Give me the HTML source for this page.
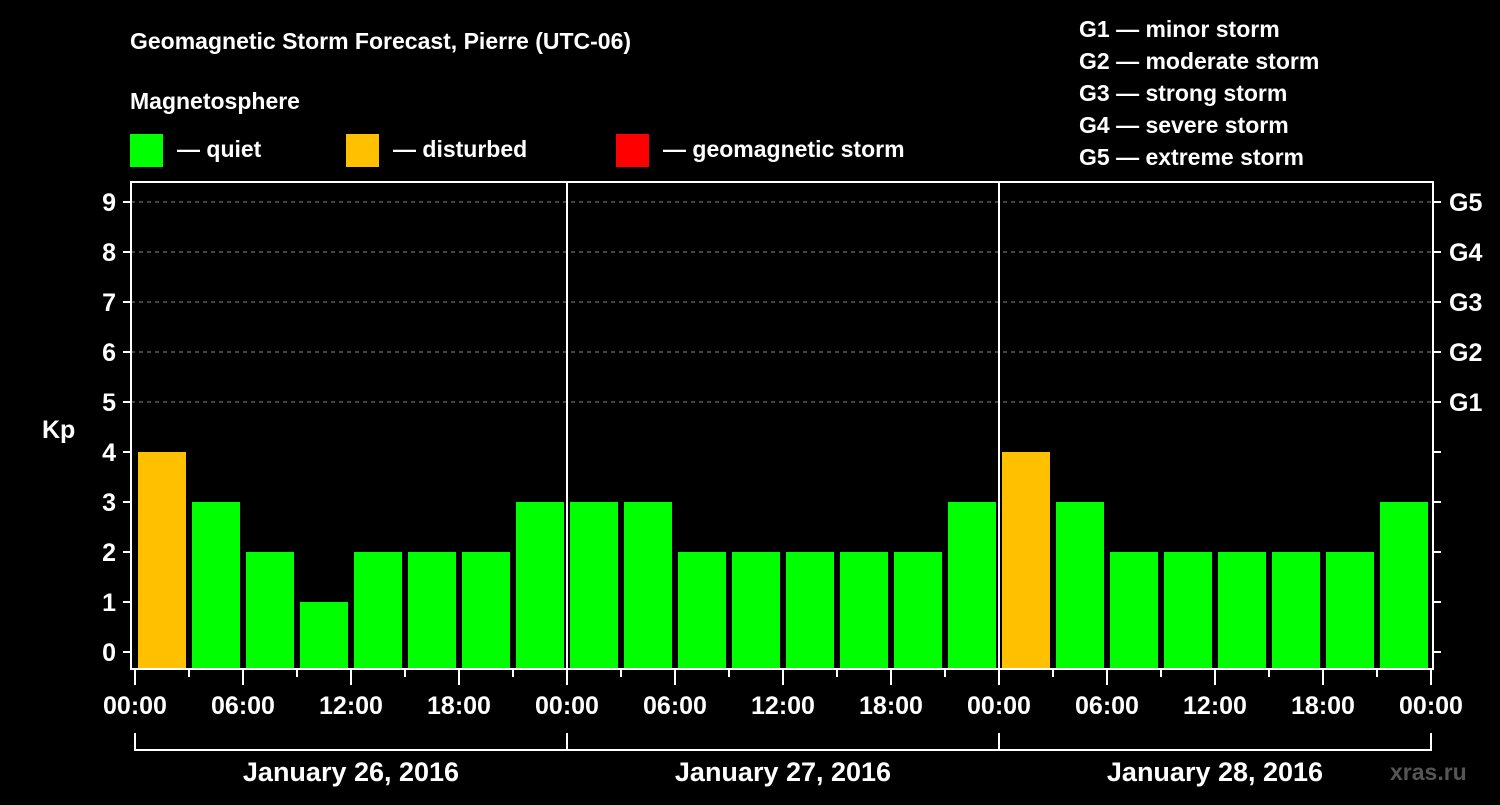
<!DOCTYPE html>
<html><head><meta charset="utf-8"><style>
body{margin:0;background:#000;width:1500px;height:800px;overflow:hidden;font-family:"Liberation Sans",sans-serif;font-weight:bold;color:#fff}
</style></head><body>
<svg width="1500" height="800" xmlns="http://www.w3.org/2000/svg" font-family="Liberation Sans, sans-serif" font-weight="bold">
<text x="130" y="49" font-size="23" fill="#fff">Geomagnetic Storm Forecast, Pierre (UTC-06)</text>
<text x="130" y="109" font-size="23" fill="#fff">Magnetosphere</text>
<g><rect x="130" y="134" width="33" height="33" fill="#00ff00"/><text x="177" y="157" font-size="23" fill="#fff">— quiet</text></g>
<g><rect x="346" y="134" width="33" height="33" fill="#ffc000"/><text x="393" y="157" font-size="23" fill="#fff">— disturbed</text></g>
<g><rect x="616" y="134" width="33" height="33" fill="#ff0000"/><text x="663" y="157" font-size="23" fill="#fff">— geomagnetic storm</text></g>
<g font-size="23" fill="#fff">
<text x="1079" y="37">G1 — minor storm</text><text x="1079" y="69">G2 — moderate storm</text><text x="1079" y="101">G3 — strong storm</text><text x="1079" y="133">G4 — severe storm</text><text x="1079" y="165">G5 — extreme storm</text></g>
<text x="42" y="438" font-size="25" fill="#fff">Kp</text>
<text x="1390" y="780" font-size="23" fill="#555">xras.ru</text>
<g id="plot"></g>
</svg>
<script>
const values=[4,3,2,1,2,2,2,3, 3,3,2,2,2,2,2,3, 4,3,2,2,2,2,2,3];
const days=["January 26, 2016","January 27, 2016","January 28, 2016"];
const hourLabels=["00:00","06:00","12:00","18:00"];
const gLabels=["G1","G2","G3","G4","G5"];
const NS="http://www.w3.org/2000/svg";
const g=document.getElementById('plot');
const X0=135,PX_H=18,Y0=652,PX_K=50,L=131,R=1433,T=182,B=669;
const xs=h=>X0+h*PX_H, ys=k=>Y0-k*PX_K;
function mk(tag,a,parent){const e=document.createElementNS(NS,tag);for(const k in a)e.setAttribute(k,a[k]);(parent||g).appendChild(e);return e;}
for(let k=5;k<=9;k++){
 const l=mk('line',{x1:L,x2:R,y1:ys(k),y2:ys(k),stroke:'#888','stroke-dasharray':'4,4','stroke-width':1});
 
 
}
values.forEach((v,i)=>{
 const c=v>=5?'#ff0000':(v>=4?'#ffc000':'#00ff00');
 const r=mk('rect',{x:xs(i*3)+3,width:48,y:ys(v),height:B-ys(v),fill:c});
 
 
});
for(let d=1;d<3;d++){
 const l=mk('line',{x1:xs(d*24),x2:xs(d*24),y1:T,y2:B,stroke:'#fff','stroke-width':2});
 
 
}
const fr=mk('rect',{x:L,y:T,width:R-L,height:B-T,fill:'none',stroke:'#fff','stroke-width':2});


for(let k=0;k<=9;k++){
 mk('line',{x1:123,x2:L,y1:ys(k),y2:ys(k),stroke:'#fff','stroke-width':2});
 mk('line',{x1:R,x2:1441,y1:ys(k),y2:ys(k),stroke:'#fff','stroke-width':2});
 const t=mk('text',{x:116,y:ys(k)+9,'text-anchor':'end','font-size':25,fill:'#fff'});t.textContent=k;
 
 
}
gLabels.forEach((s,i)=>{const t=mk('text',{x:1449,y:ys(5+i)+9,'font-size':25,fill:'#fff'});t.textContent=s;
 
 });
for(let h=0;h<=72;h+=3){
 const major=h%6===0;
 mk('line',{x1:xs(h),x2:xs(h),y1:B,y2:major?685:677,stroke:'#fff','stroke-width':2});
 if(major){const t=mk('text',{x:xs(h),y:714,'text-anchor':'middle','font-size':25,fill:'#fff'});t.textContent=h===72?hourLabels[0]:hourLabels[(h/6)%4];
 
 }
}
mk('path',{d:`M${xs(0)} 733V750H${xs(72)}V733`,fill:'none',stroke:'#fff','stroke-width':2});
for(let d=1;d<3;d++)mk('line',{x1:xs(d*24),x2:xs(d*24),y1:733,y2:750,stroke:'#fff','stroke-width':2});
days.forEach((s,d)=>{const t=mk('text',{x:xs(d*24+12),y:781,'text-anchor':'middle','font-size':27,fill:'#fff'});t.textContent=s;
 
 });
</script>
</body></html>
